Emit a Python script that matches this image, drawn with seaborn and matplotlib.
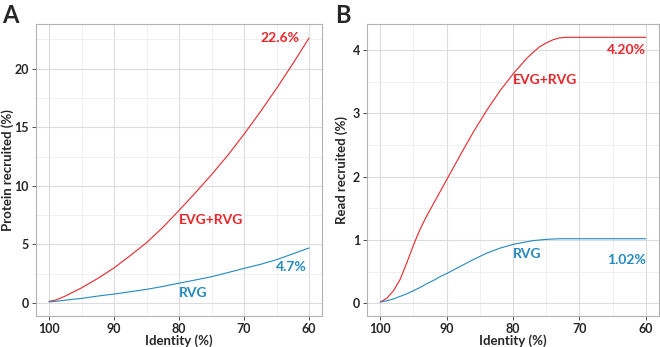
import numpy as np
import pandas as pd
import seaborn as sns
import matplotlib.pyplot as plt
from matplotlib.ticker import MultipleLocator

# Data (identity %, recruited %)
identity = [100, 99, 97.5, 95, 92.5, 90, 87.5, 85, 82.5, 80, 77.5, 75, 72.5, 70, 67.5, 65, 62.5, 60]
protein_evg_rvg = [0.15, 0.25, 0.6, 1.3, 2.1, 3.0, 4.05, 5.15, 6.45, 7.9, 9.4, 10.95, 12.6, 14.4, 16.3, 18.3, 20.4, 22.6]
protein_rvg = [0.1, 0.15, 0.25, 0.4, 0.6, 0.77, 0.97, 1.17, 1.42, 1.7, 1.97, 2.25, 2.6, 2.96, 3.3, 3.7, 4.2, 4.7]

read_identity = [100, 99, 98, 97, 96, 95, 94, 93, 92, 91, 90, 88, 86, 84, 82, 80, 78, 77,
                 76, 75, 74, 73, 72, 70, 65, 60]
read_evg_rvg = [0.02, 0.08, 0.2, 0.38, 0.64, 0.92, 1.17, 1.38, 1.57, 1.76, 1.95, 2.33, 2.7, 3.04,
                3.35, 3.62, 3.86, 3.96, 4.05, 4.11, 4.16, 4.19, 4.2, 4.2, 4.2, 4.2]
read_rvg = [0.02, 0.04, 0.07, 0.11, 0.15, 0.2, 0.25, 0.31, 0.36, 0.42, 0.47, 0.58, 0.69, 0.79,
            0.87, 0.93, 0.97, 0.99, 1.0, 1.01, 1.015, 1.02, 1.02, 1.02, 1.02, 1.02]

red = "#e8262a"
blue = "#2389c0"

sns.set_theme(style="whitegrid")
plt.rcParams['font.family'] = ['Lato', 'DejaVu Sans']

fig, axes = plt.subplots(1, 2, figsize=(6.6, 3.47), dpi=100)

prot = pd.DataFrame({"identity": identity * 2,
                     "value": protein_evg_rvg + protein_rvg,
                     "group": ["EVG+RVG"] * len(identity) + ["RVG"] * len(identity)})
reads = pd.DataFrame({"identity": read_identity * 2,
                      "value": read_evg_rvg + read_rvg,
                      "group": ["EVG+RVG"] * len(read_identity) + ["RVG"] * len(read_identity)})

pal = {"EVG+RVG": red, "RVG": blue}
for ax, df in zip(axes, [prot, reads]):
    sns.lineplot(data=df, x="identity", y="value", hue="group", palette=pal,
                 linewidth=0.8, legend=False, ax=ax)
    ax.set_xlim(102, 58)
    ax.xaxis.set_major_locator(MultipleLocator(10))
    ax.xaxis.set_minor_locator(MultipleLocator(5))
    ax.set_xlabel("Identity (%)", fontsize=9.5, fontweight="bold")
    ax.grid(which="major", color="#dcdcdc", linewidth=0.8)
    ax.grid(which="minor", color="#eeeeee", linewidth=0.6)
    for s in ax.spines.values():
        s.set_color("#b3b3b3")
        s.set_linewidth(0.8)
    ax.tick_params(which="major", length=3, width=0.6, color="#333333",
                   labelsize=9, pad=2, left=True, bottom=True)
    ax.tick_params(which="minor", length=0)
    for lab in ax.get_xticklabels() + ax.get_yticklabels():
        lab.set_fontweight("bold")

ax = axes[0]
ax.set_ylim(-1.1, 23.8)
ax.yaxis.set_major_locator(MultipleLocator(5))
ax.yaxis.set_minor_locator(MultipleLocator(2.5))
ax.set_ylabel("Protein recruited (%)", fontsize=9.5, fontweight="bold")
ax.text(61.5, 22.6, "22.6%", color=red, fontsize=10, fontweight="bold", ha="right", va="center")
ax.text(80, 7.1, "EVG+RVG", color=red, fontsize=10, fontweight="bold", ha="left", va="center")
ax.text(60.4, 3.1, "4.7%", color=blue, fontsize=10, fontweight="bold", ha="right", va="center")
ax.text(80, 0.9, "RVG", color=blue, fontsize=10, fontweight="bold", ha="left", va="center")

ax = axes[1]
ax.set_ylim(-0.2, 4.41)
ax.yaxis.set_major_locator(MultipleLocator(1))
ax.yaxis.set_minor_locator(MultipleLocator(0.5))
ax.set_ylabel("Read recruited (%)", fontsize=9.5, fontweight="bold")
ax.text(60, 4.0, "4.20%", color=red, fontsize=10, fontweight="bold", ha="right", va="center")
ax.text(80, 3.53, "EVG+RVG", color=red, fontsize=10, fontweight="bold", ha="left", va="center")
ax.text(60, 0.68, "1.02%", color=blue, fontsize=10, fontweight="bold", ha="right", va="center")
ax.text(80, 0.78, "RVG", color=blue, fontsize=10, fontweight="bold", ha="left", va="center")

axes[0].set_position([36 / 660, 31 / 347, 286 / 660, 292 / 347])
axes[1].set_position([367 / 660, 31 / 347, 292 / 660, 292 / 347])
axes[0].yaxis.set_label_coords(-0.076, 0.5)
axes[1].yaxis.set_label_coords(-0.065, 0.5)
axes[0].xaxis.set_label_coords(0.5, -0.062)
axes[1].xaxis.set_label_coords(0.5, -0.062)

fig.text(2 / 660, 1 - 4 / 347, "A", fontsize=17, fontweight="bold", ha="left", va="top")
fig.text(335 / 660, 1 - 4 / 347, "B", fontsize=17, fontweight="bold", ha="left", va="top")

fig.savefig("out.png", dpi=100)
